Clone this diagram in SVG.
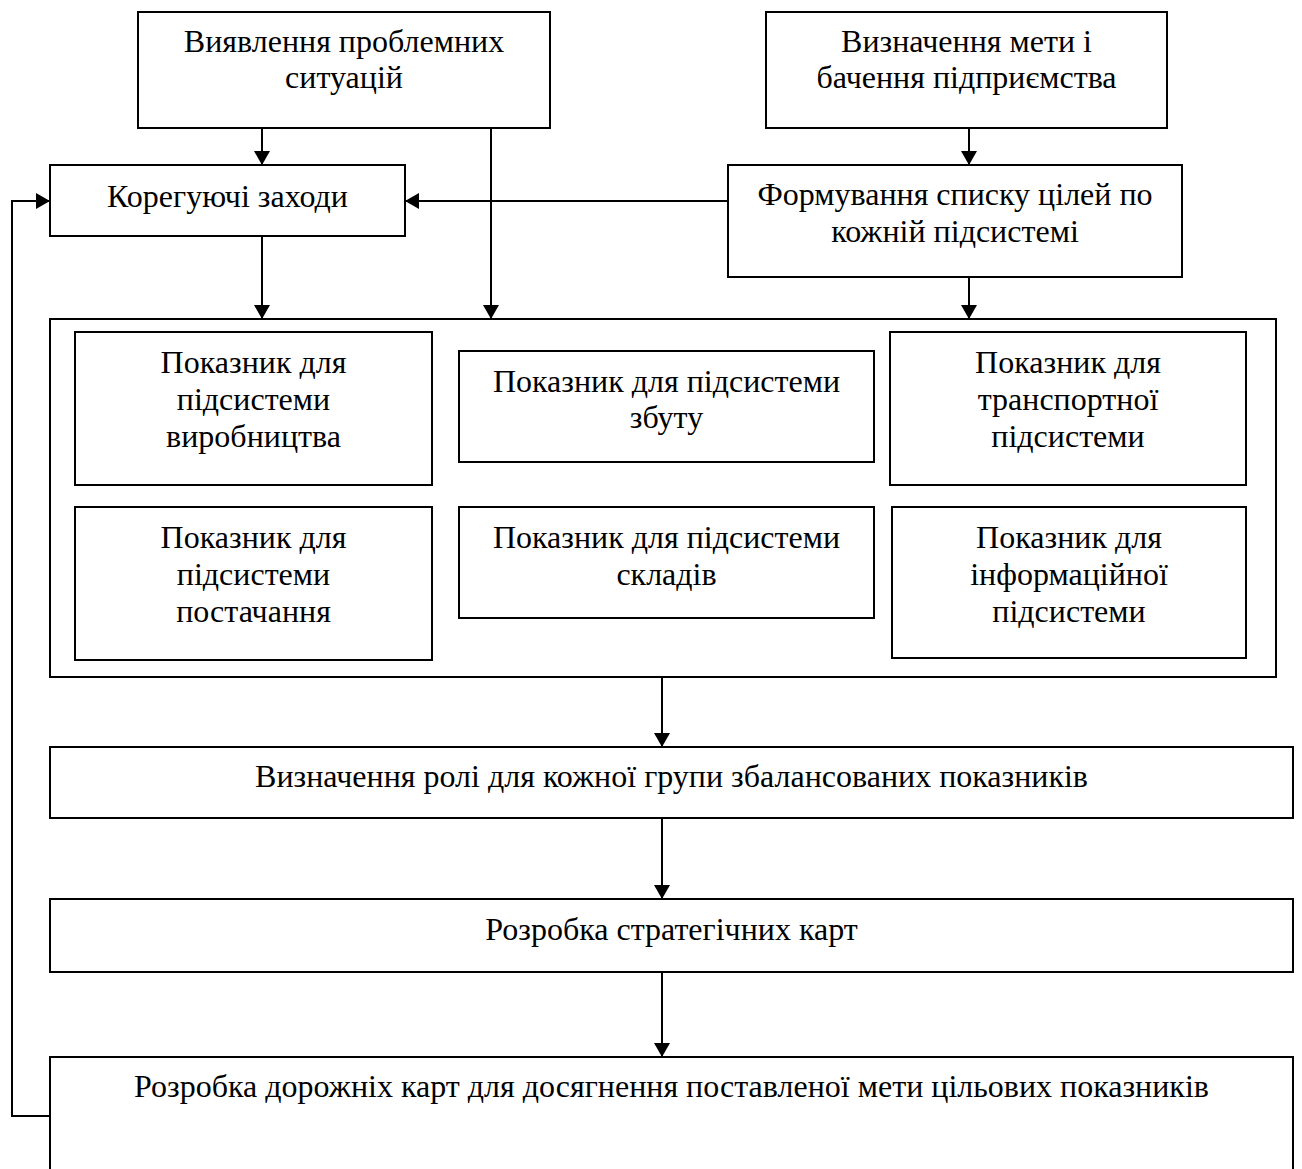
<svg xmlns="http://www.w3.org/2000/svg" width="1302" height="1169" viewBox="0 0 1302 1169">
<defs>
<marker id="arr" viewBox="0 0 14 16" refX="14" refY="8" markerWidth="14" markerHeight="16" markerUnits="userSpaceOnUse" orient="auto">
<path d="M0,0 L14,8 L0,16 z" fill="#000"/>
</marker>
</defs>
<style>
rect{fill:#fff;stroke:#000;stroke-width:2}
text{font-family:"Liberation Serif","Times New Roman",serif;font-size:32px;fill:#000;text-anchor:middle}
.c line,.c polyline{stroke:#000;stroke-width:2;fill:none}
</style>
<rect x="0" y="0" width="1302" height="1169" style="stroke:none"/>
<g id="n-viyavlennya"><rect x="138" y="12" width="412" height="116"/><text x="344" y="52">Виявлення проблемних</text><text x="344" y="88">ситуацій</text></g>
<g id="n-vyznachennya-mety"><rect x="766" y="12" width="401" height="116"/><text x="966.5" y="52">Визначення мети і</text><text x="966.5" y="88">бачення підприємства</text></g>
<g id="n-koreguyuchi"><rect x="50" y="165" width="355" height="71"/><text x="227.5" y="207">Корегуючі заходи</text></g>
<g id="n-formuvannya"><rect x="728" y="165" width="454" height="112"/><text x="955" y="205">Формування списку цілей по</text><text x="955" y="242">кожній підсистемі</text></g>
<g id="n-container"><rect x="50" y="319" width="1226" height="358"/></g>
<g id="n-vyrobnytstvo"><rect x="75" y="332" width="357" height="153"/><text x="253.5" y="373">Показник для</text><text x="253.5" y="410">підсистеми</text><text x="253.5" y="447">виробництва</text></g>
<g id="n-zbut"><rect x="459" y="351" width="415" height="111"/><text x="666.5" y="392">Показник для підсистеми</text><text x="666.5" y="428">збуту</text></g>
<g id="n-transport"><rect x="890" y="332" width="356" height="153"/><text x="1068" y="373">Показник для</text><text x="1068" y="410">транспортної</text><text x="1068" y="447">підсистеми</text></g>
<g id="n-postachannya"><rect x="75" y="507" width="357" height="153"/><text x="253.5" y="548">Показник для</text><text x="253.5" y="585">підсистеми</text><text x="253.5" y="622">постачання</text></g>
<g id="n-sklady"><rect x="459" y="507" width="415" height="111"/><text x="666.5" y="548">Показник для підсистеми</text><text x="666.5" y="585">складів</text></g>
<g id="n-informatsiyna"><rect x="892" y="507" width="354" height="151"/><text x="1069" y="548">Показник для</text><text x="1069" y="585">інформаційної</text><text x="1069" y="622">підсистеми</text></g>
<g id="n-roli"><rect x="50" y="747" width="1243" height="71"/><text x="671.5" y="787">Визначення ролі для кожної групи збалансованих показників</text></g>
<g id="n-strat"><rect x="50" y="899" width="1243" height="73"/><text x="671.5" y="940">Розробка стратегічних карт</text></g>
<g id="n-dorozhni"><rect x="50" y="1057" width="1243" height="140"/><text x="671.5" y="1097">Розробка дорожніх карт для досягнення поставленої мети цільових показників</text></g>
<g id="connectors" class="c">
<line x1="262" y1="128" x2="262" y2="165" marker-end="url(#arr)"/>
<line x1="491" y1="128" x2="491" y2="319" marker-end="url(#arr)"/>
<line x1="969" y1="128" x2="969" y2="165" marker-end="url(#arr)"/>
<line x1="728" y1="201" x2="405" y2="201" marker-end="url(#arr)"/>
<line x1="262" y1="236" x2="262" y2="319" marker-end="url(#arr)"/>
<line x1="969" y1="277" x2="969" y2="319" marker-end="url(#arr)"/>
<line x1="662" y1="677" x2="662" y2="747" marker-end="url(#arr)"/>
<line x1="662" y1="818" x2="662" y2="899" marker-end="url(#arr)"/>
<line x1="662" y1="972" x2="662" y2="1057" marker-end="url(#arr)"/>
<polyline points="50,1116 12,1116 12,201 50,201" marker-end="url(#arr)"/>
</g>
</svg>
